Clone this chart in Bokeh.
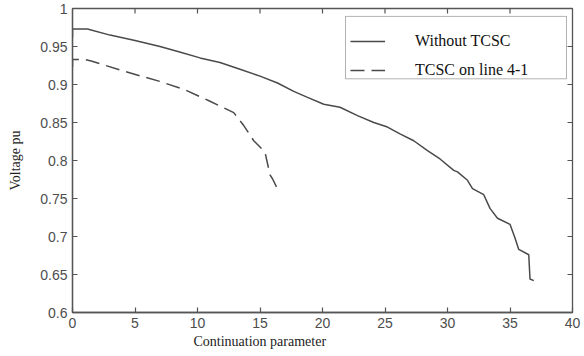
import math
from bokeh.plotting import figure
from bokeh.models import LinearAxis, FixedTicker, Legend, LegendItem, Title, Range1d, BoxAnnotation
from bokeh.embed import file_html
from bokeh.resources import INLINE

# ---- data ----
without_x = [0, 0, 1.2, 3, 5, 7, 8.5, 10.2, 11.8, 13.4, 15.0, 16.4, 17.7, 18.8, 20.1, 21.4,
             22.8, 24.1, 25.2, 26.2, 27.3, 28.4, 29.4, 30.5, 30.8, 31.6, 32.0, 32.9, 33.4,
             34.0, 35.0, 35.4, 35.7, 36.5, 36.6, 36.9]
without_y = [0.962, 0.973, 0.973, 0.965, 0.958, 0.950, 0.943, 0.935, 0.929, 0.920, 0.911, 0.902,
             0.891, 0.883, 0.874, 0.870, 0.859, 0.850, 0.844, 0.835, 0.826, 0.813, 0.802,
             0.787, 0.785, 0.774, 0.763, 0.755, 0.737, 0.724, 0.716, 0.698, 0.683, 0.676,
             0.644, 0.642]

tcsc_x = [0, 0, 0.9, 1.5, 4, 7, 9, 11.0, 12.9, 13.7, 14.5, 15.4, 15.8, 16.0, 16.5]
tcsc_y = [0.923, 0.933, 0.933, 0.931, 0.918, 0.904, 0.893, 0.878, 0.863, 0.846, 0.826,
          0.811, 0.781, 0.776, 0.759]

x_ticks = [0, 5, 10, 15, 20, 25, 30, 35, 40]
y_ticks = [0.6, 0.65, 0.7, 0.75, 0.8, 0.85, 0.9, 0.95, 1.0]
y_tick_labels = ["0.6", "0.65", "0.7", "0.75", "0.8", "0.85", "0.9", "0.95", "1"]

series_names = ["Without TCSC", "TCSC on line 4-1"]
x_label = "Continuation parameter"
y_label = "Voltage pu"

X_MIN, X_MAX = 0, 40
Y_MIN, Y_MAX = 0.6, 1.0

AX = "#555555"
LINE = "#4a4a4a"
SERIF = "'Liberation Serif', 'Times New Roman', serif"
SANS = "'Liberation Sans', Arial, sans-serif"

p = figure(width=584, height=356, output_backend="svg", toolbar_location=None,
           x_range=Range1d(X_MIN, X_MAX), y_range=Range1d(Y_MIN, Y_MAX),
           x_axis_location=None, y_axis_location=None,
           min_border_left=72, min_border_right=12, min_border_top=8, min_border_bottom=44)
p.grid.visible = False
p.outline_line_color = AX
p.outline_line_width = 1.3
p.background_fill_color = "white"
p.border_fill_color = "white"

def style_axis(ax):
    ax.axis_line_color = AX
    ax.axis_line_width = 1.3
    ax.major_tick_line_color = AX
    ax.major_tick_line_width = 1.2
    ax.major_tick_in = 5
    ax.major_tick_out = 0
    ax.minor_tick_line_color = None
    ax.major_label_text_color = "#4d4d4d"
    ax.major_label_text_font = SANS
    ax.major_label_text_font_size = "14px"

xb = LinearAxis(ticker=FixedTicker(ticks=x_ticks))
style_axis(xb)
xb.major_label_standoff = 5
p.add_layout(xb, "below")

yl = LinearAxis(ticker=FixedTicker(ticks=y_ticks),
                major_label_overrides={t: s for t, s in zip(y_ticks, y_tick_labels)})
style_axis(yl)
yl.major_label_standoff = 5
yl.axis_label = y_label
yl.axis_label_text_font = SERIF
yl.axis_label_text_font_style = "normal"
yl.axis_label_text_font_size = "14px"
yl.axis_label_text_color = "#222222"
yl.axis_label_standoff = 14
p.add_layout(yl, "left")

# inward ticks on the top and right edges of the box (MATLAB style)
p.ray(x=x_ticks[1:-1], y=[Y_MAX] * (len(x_ticks) - 2), length=5, length_units="screen",
      angle=-math.pi / 2, line_color=AX, line_width=1.2)
p.ray(x=[X_MAX] * (len(y_ticks) - 2), y=y_ticks[1:-1], length=5, length_units="screen",
      angle=math.pi, line_color=AX, line_width=1.2)

xtitle = Title(text=x_label, align="left", offset=121, text_font=SERIF,
               text_font_style="normal", text_font_size="14px", text_color="#222222",
               standoff=3)
p.add_layout(xtitle, "below")

r1 = p.line(without_x, without_y, line_color=LINE, line_width=1.5)
r2 = p.line(tcsc_x, tcsc_y, line_color=LINE, line_width=1.5, line_dash="14 7")

# legend frame (box drawn around the legend entries)
p.add_layout(BoxAnnotation(left=21.84, right=39.52, top=0.9896, bottom=0.9075,
                           fill_color="white", fill_alpha=1,
                           line_color="black", line_width=1, level="overlay"))

legend = Legend(items=[LegendItem(label=series_names[0], renderers=[r1]),
                       LegendItem(label=series_names[1], renderers=[r2])],
                location=(278, 232), orientation="vertical",
                border_line_color=None, background_fill_alpha=0,
                padding=7, spacing=9, glyph_width=35, glyph_height=20,
                label_standoff=30, margin=0,
                label_text_font=SERIF, label_text_font_size="16px",
                label_text_color="#111111")
p.add_layout(legend, "center")

open("out.html", "w").write(file_html(p, INLINE))
